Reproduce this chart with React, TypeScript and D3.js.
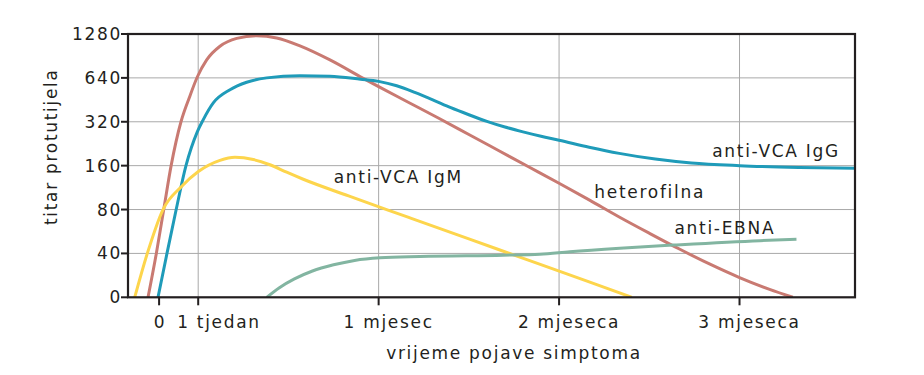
import React from "react";
import * as d3 from "d3";

// y levels (equally spaced categories)
const Y_LABELS = ["0", "40", "80", "160", "320", "640", "1280"];
// x ticks (days since onset of symptoms, schematic)
const X_TICK_VALUES = [-6.5, 0, 30, 60, 90];
const X_TICK_LABELS = ["0", "1 tjedan", "1 mjesec", "2 mjeseca", "3 mjeseca"];
const X_GRID_VALUES = [0, 30, 60, 90];

// series: [day, level index]
const heterofilna: [number, number][] = [
  [-8.34, 0], [-6.96, 1.0], [-5.73, 2.0], [-4.5, 3.0], [-2.86, 4.0], [-1.45, 4.56],
  [-0.15, 5.02], [1.41, 5.41], [3.62, 5.72], [6.4, 5.9], [9.72, 5.96], [13.05, 5.91],
  [16.92, 5.73], [21.91, 5.41], [27.44, 4.99], [30, 4.8], [35, 4.44], [40, 4.08],
  [45, 3.71], [50, 3.34], [55, 2.97], [60, 2.6], [65, 2.22], [70, 1.83], [75, 1.46],
  [80, 1.1], [85, 0.76], [90, 0.45], [95, 0.18], [98.86, 0],
];
const vcaIgG: [number, number][] = [
  [-6.68, 0], [-5.19, 1.0], [-3.66, 2.0], [-2.03, 3.0], [-0.15, 3.77], [0.85, 4.05],
  [2.51, 4.43], [5.29, 4.73], [8.06, 4.9], [11.38, 5.0], [16.92, 5.05], [21.91, 5.04],
  [27, 4.97], [30, 4.92], [33, 4.82], [36, 4.67], [39, 4.5], [42, 4.32], [45, 4.16],
  [48, 4.01], [51, 3.88], [54, 3.77], [57, 3.67], [60, 3.58], [65, 3.42], [70, 3.28],
  [76, 3.15], [82, 3.06], [90, 3.0], [100, 2.96], [109.2, 2.94],
];
const vcaIgM: [number, number][] = [
  [-10.55, 0], [-8.46, 1.0], [-5.85, 2.0], [-2.81, 2.52], [-0.03, 2.86], [3.62, 3.12],
  [6.12, 3.19], [9.16, 3.14], [11.93, 3.02], [14.71, 2.85], [17.47, 2.69], [25, 2.31],
  [35, 1.82], [45, 1.33], [55, 0.84], [65, 0.35], [72.1, 0],
];
const ebna: [number, number][] = [
  [11.39, 0], [13.5, 0.22], [16, 0.42], [19, 0.6], [22.5, 0.74], [26, 0.84],
  [30.22, 0.9], [36.86, 0.93], [50.71, 0.96], [56.81, 0.98], [61.79, 1.04], [70.1, 1.12],
  [78.96, 1.19], [93.38, 1.29], [99.47, 1.32],
];

const SERIES_NAMES = ["heterofilna", "anti-VCA IgG", "anti-VCA IgM", "anti-EBNA"];
const SERIES_DATA = [heterofilna, vcaIgG, vcaIgM, ebna];
const SERIES_COLORS = ["#c97a72", "#1f9bb9", "#fdd54c", "#82b5a1"];
// label anchor positions in data units [day, level]
const LABEL_POS: [number, number][] = [[75.07, 2.27], [96.07, 3.2], [33.26, 2.61], [87.56, 1.44]];

const W = 924;
const H = 375;
const LEFT = 128;
const RIGHT = 855;
const TOP = 34;
const BOTTOM = 297.3;

const FONT = "'DejaVu Sans', Verdana, sans-serif";
const FS = 17;
const LS = 1.7;
const TEXT = "#231f20";

export default function App() {
  const x = d3.scaleLinear().domain([-11.67, 109.2]).range([LEFT, RIGHT]);
  const y = d3.scaleLinear().domain([0, 6]).range([BOTTOM, TOP]);
  const line = d3
    .line<[number, number]>()
    .x((d) => x(d[0]))
    .y((d) => y(d[1]))
    .curve(d3.curveMonotoneX);

  const levels = d3.range(Y_LABELS.length);

  return (
    <svg
      width={W}
      height={H}
      style={{ position: "absolute", left: 0, top: 0, background: "#fff" }}
      fontFamily={FONT}
    >
      <defs>
        <clipPath id="plot">
          <rect x={LEFT} y={TOP} width={RIGHT - LEFT} height={BOTTOM - TOP} />
        </clipPath>
      </defs>
      {/* grid */}
      {levels.slice(1, -1).map((l) => (
        <line key={"gy" + l} x1={LEFT} x2={RIGHT} y1={y(l)} y2={y(l)} stroke="#a9a9a9" strokeWidth={1} />
      ))}
      {X_GRID_VALUES.map((v) => (
        <line key={"gx" + v} x1={x(v)} x2={x(v)} y1={TOP} y2={BOTTOM} stroke="#a9a9a9" strokeWidth={1} />
      ))}
      {/* series */}
      <g clipPath="url(#plot)">
        {SERIES_DATA.map((s, i) => (
          <path key={SERIES_NAMES[i]} d={line(s) || ""} fill="none" stroke={SERIES_COLORS[i]} strokeWidth={3} />
        ))}
      </g>
      {/* frame */}
      <rect x={LEFT} y={TOP} width={RIGHT - LEFT} height={BOTTOM - TOP} fill="none" stroke="#231f20" strokeWidth={2.2} />
      {/* y ticks */}
      {levels.map((l) => (
        <g key={"yt" + l}>
          <line x1={LEFT - 7} x2={LEFT} y1={y(l)} y2={y(l)} stroke="#231f20" strokeWidth={2} />
          <text
            x={LEFT - 6}
            y={y(l)}
            textAnchor="end"
            dominantBaseline="central"
            fontSize={FS}
            letterSpacing={LS}
            fill={TEXT}
          >
            {Y_LABELS[l]}
          </text>
        </g>
      ))}
      {/* x ticks */}
      {X_TICK_VALUES.map((v, i) => (
        <g key={"xt" + i}>
          <line x1={x(v)} x2={x(v)} y1={BOTTOM} y2={BOTTOM + 8} stroke="#231f20" strokeWidth={2} />
          {i === 0 ? (
            <text x={x(v) + 1} y={328} textAnchor="middle" fontSize={FS} letterSpacing={LS} fill={TEXT}>
              {X_TICK_LABELS[i]}
            </text>
          ) : i === 1 ? (
            <text x={x(v) - 21} y={328} textAnchor="start" fontSize={FS} letterSpacing={LS} fill={TEXT}>
              {X_TICK_LABELS[i]}
            </text>
          ) : (
            <text x={x(v) + 10} y={328} textAnchor="middle" fontSize={FS} letterSpacing={LS} fill={TEXT}>
              {X_TICK_LABELS[i]}
            </text>
          )}
        </g>
      ))}
      {/* axis titles */}
      <text x={514} y={359} textAnchor="middle" fontSize={FS} letterSpacing={LS} fill={TEXT}>
        vrijeme pojave simptoma
      </text>
      <text
        transform={`translate(57, 146.7) rotate(-90)`}
        textAnchor="middle"
        fontSize={FS}
        letterSpacing={LS}
        fill={TEXT}
      >
        titar protutijela
      </text>
      {/* series labels */}
      {SERIES_NAMES.map((n, i) => (
        <text
          key={"lab" + n}
          x={x(LABEL_POS[i][0])}
          y={y(LABEL_POS[i][1])}
          textAnchor="middle"
          fontSize={FS}
          letterSpacing={LS}
          fill={TEXT}
        >
          {n}
        </text>
      ))}
    </svg>
  );
}
